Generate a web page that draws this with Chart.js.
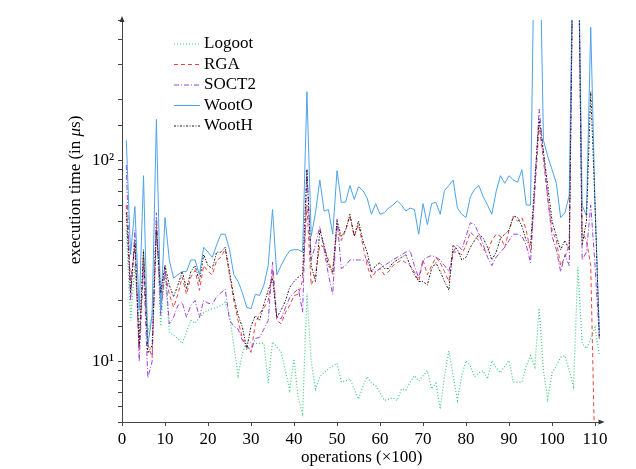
<!DOCTYPE html>
<html>
<head>
<meta charset="utf-8">
<script src="https://cdn.jsdelivr.net/npm/chart.js@4.4.1/dist/chart.umd.min.js"></script>
<style>
  body { margin: 0; background: #fff; }
  canvas { display: block; }
</style>
</head>
<body>
<canvas id="chart" width="636" height="469"></canvas>
<script>
// operations (x100), one point per step
const operations = [];
for (let i = 1; i <= 111; i++) operations.push(i);

const xTicks = [0, 10, 20, 30, 40, 50, 60, 70, 80, 90, 100, 110];
const yTicks = { 10: "10\u00b9", 100: "10\u00b2" };

const seriesNames = ["Logoot", "RGA", "SOCT2", "WootO", "WootH"];

const logoot = [
  45, 16, 30, 14, 35, 14, 17, 52, 15, 28,
  14, 13.5, 13, 12.3, 14, 16, 15.5, 16.5, 17.5, 18,
  18.3, 18.6, 19, 19.7, 17, 12, 8.5, 11, 12.5, 12.4,
  12.3, 12.3, 12.3, 7.8, 12.5, 11.8, 11.1, 9, 7.2, 10.3,
  6.5, 5.5, 21.8, 10, 7.3, 8.4, 8.8, 9.2, 9.5, 9.8,
  7.9, 8, 8.2, 7.3, 6.5, 7.5, 8.4, 7.8, 7.6, 7,
  6.4, 6.5, 6.6, 6.4, 7.3, 7.2, 7.9, 8.5, 8, 8.5,
  9, 7.3, 7.8, 5.8, 8.5, 11.3, 8.5, 6.4, 8.5, 10.1,
  9.5, 8.4, 8.8, 9, 8.2, 10.1, 9.3, 8.8, 9.5, 10.1,
  7.9, 7.9, 7.9, 9.5, 10.7, 9.4, 18.4, 9, 6.5, 8.8,
  9.5, 10.5, 10.7, 9, 7.5, 29.4, 12.3, 11.6, 13, 14.8,
  10.7
];
const rga = [
  60, 25, 37, 11.4, 34, 12.2, 10.5, 48, 19, 28,
  21.6, 18.6, 21.6, 26.3, 21.6, 26.3, 28.4, 22.6, 30, 28,
  27, 31.8, 33, 36.3, 27, 20.1, 16, 13, 11.8, 11.1,
  15.4, 17.3, 18.5, 20.1, 28.4, 16, 15.4, 17.5, 19, 21.3,
  21.6, 25.3, 60, 24, 27, 38, 37, 32, 27, 48,
  40, 45, 53, 42, 48, 38, 30, 26, 28, 29,
  27, 28, 30, 31, 32, 31, 30, 28, 25, 32,
  27, 30, 33, 31, 28, 25, 35, 35, 34, 38,
  44, 42, 40, 36, 35, 40, 43, 42, 37, 45,
  52, 50, 52, 45, 35, 70, 150, 100, 65, 45,
  40, 30, 33, 38, 2000, 2000, 44, 40, 30, 3,
  3
];
const soct2 = [
  95, 20, 45, 10, 30, 8.3, 10, 55, 17, 30,
  15.4, 16.6, 19, 19.7, 16.6, 19, 20.1, 16.6, 20.1, 19.5,
  19.3, 21, 22, 22.9, 16, 15, 14.5, 12.7, 12, 11.3,
  13, 13.2, 14.5, 16, 31.2, 16.6, 16.3, 18.5, 20.8, 22,
  23, 17.6, 90, 32, 38, 47, 36, 27, 21.6, 51,
  29, 30, 32, 32, 32, 32, 32, 28, 28, 29,
  30, 31, 32, 33, 34, 35, 35.6, 30, 26, 32,
  33, 33.7, 33, 32, 30, 28, 35, 38, 36, 42,
  49, 48, 43, 38, 33, 30, 33, 35, 37, 40,
  43, 43, 42, 38, 31, 75, 180, 110, 65, 42,
  36, 28, 34, 30, 2000, 2000, 32, 35, 60, 30,
  13
];
const wootO = [
  126, 34, 59, 18, 84, 12, 17, 160, 18, 52,
  32, 26, 27, 28, 28, 32, 32, 27, 37, 35,
  33, 38, 43, 43, 36, 27, 25, 22, 18.6, 18.3,
  21.6, 21.3, 24, 30, 57, 27, 30, 33, 35.6, 36,
  36, 35, 220, 42, 55, 80, 56, 57, 43, 89,
  62, 62, 75, 64, 74, 71, 65, 54, 61, 54,
  55, 58, 60, 63, 60, 56, 58, 57, 43, 61,
  48, 61, 62, 54, 71, 75, 80, 58, 54, 52,
  66, 72, 75, 66, 60, 54, 70, 84, 77, 84,
  80, 78, 90, 60, 60, 2000, 2000, 126, 105, 90,
  77, 52, 55, 67, 2000, 2000, 60, 53, 460, 60,
  14
];
const wootH = [
  55, 22, 40, 12, 36, 11, 12, 45, 22, 30,
  24, 21, 24, 28, 23, 28, 30, 25, 34, 30,
  29, 35, 35, 37, 28, 21, 17, 14.8, 11.5, 15,
  16.9, 16, 19.3, 22.6, 26, 16.6, 18, 20, 23.4, 25,
  26.3, 27.2, 90, 30, 25, 45, 38, 30, 28, 50,
  42, 45, 54, 42, 50, 40, 35, 28, 30, 31,
  29, 29, 31, 32, 33, 34, 30, 27, 25, 25,
  24, 29, 31, 28, 25, 22.6, 38, 36, 32, 33,
  37, 40, 43, 41, 37, 32, 35, 41, 43, 45,
  53, 52, 47, 40, 38, 80, 160, 110, 75, 50,
  42, 36, 40, 36, 2000, 2000, 38, 50, 220, 60,
  13
];

const seriesValues = [logoot, rga, soct2, wootO, wootH];
const seriesColors = ["#3ccb7c", "#e8453f", "#9b42dd", "#4da3ec", "#1a1a1a"];
const seriesDash = [[1, 2], [4, 3], [5, 2, 1, 2], [], [2, 1.5, 1, 1.5]];

const font = "'Liberation Serif', 'DejaVu Serif', serif";
const fontSize = 17;

function makeDatasets() {
  return seriesNames.map((name, i) => ({
    label: name,
    data: operations.map((x, j) => ({ x: x, y: seriesValues[i][j] })),
    borderColor: seriesColors[i],
    borderDash: seriesDash[i],
    borderWidth: i === 0 ? 1.2 : 1,
    pointRadius: 0,
    tension: 0,
    fill: false,
    order: seriesNames.length - i
  }));
}

// arrows, axis titles and the legend, drawn the way pgfplots places them
const extras = {
  id: "extras",
  afterDraw(chart) {
    const ctx = chart.ctx;
    const area = chart.chartArea;
    const f = fontSize + "px " + font;
    const fi = "italic " + fontSize + "px " + font;
    ctx.save();
    ctx.fillStyle = "#333";
    ctx.beginPath();
    ctx.moveTo(area.left, area.top - 4);
    ctx.lineTo(area.left - 2.5, area.top + 2);
    ctx.lineTo(area.left + 2.5, area.top + 2);
    ctx.closePath();
    ctx.fill();
    ctx.beginPath();
    ctx.moveTo(area.right + 3, area.bottom);
    ctx.lineTo(area.right - 3, area.bottom - 2.5);
    ctx.lineTo(area.right - 3, area.bottom + 2.5);
    ctx.closePath();
    ctx.fill();

    ctx.fillStyle = "#000";
    ctx.font = f;
    ctx.textBaseline = "middle";
    ctx.textAlign = "center";
    ctx.fillText("operations (\u00d7100)", (area.left + area.right) / 2, 458);

    // y title, rotated, with an italic mu
    const a = "execution time (in ";
    const b = "\u03bc";
    const c = "s)";
    const wa = ctx.measureText(a).width;
    ctx.font = fi;
    const wb = ctx.measureText(b).width;
    ctx.font = f;
    const wc = ctx.measureText(c).width;
    ctx.translate(76, 190);
    ctx.rotate(-Math.PI / 2);
    ctx.textAlign = "left";
    let x0 = -(wa + wb + wc) / 2;
    ctx.fillText(a, x0, 0);
    ctx.font = fi;
    ctx.fillText(b, x0 + wa, 0);
    ctx.font = f;
    ctx.fillText(c, x0 + wa + wb, 0);
    ctx.setTransform(1, 0, 0, 1, 0, 0);

    // legend
    ctx.font = f;
    ctx.textAlign = "left";
    seriesNames.forEach((name, i) => {
      const y = 44 + i * 20.5;
      ctx.strokeStyle = seriesColors[i];
      ctx.lineWidth = 1;
      ctx.setLineDash(seriesDash[i]);
      ctx.beginPath();
      ctx.moveTo(174, y);
      ctx.lineTo(200, y);
      ctx.stroke();
      ctx.setLineDash([]);
      ctx.fillStyle = "#000";
      ctx.fillText(name, 204, y);
    });
    ctx.restore();
  }
};

new Chart(document.getElementById("chart"), {
  type: "line",
  data: { datasets: makeDatasets() },
  options: {
    responsive: false,
    animation: false,
    layout: { padding: { top: 20, right: 34.5, bottom: 0, left: 0 } },
    plugins: {
      legend: { display: false },
      tooltip: { enabled: false }
    },
    scales: {
      x: {
        type: "linear",
        min: 0,
        max: 111.5,
        afterBuildTicks: (scale) => { scale.ticks = xTicks.map(v => ({ value: v })); },
        afterFit: (scale) => { scale.height = 47; },
        grid: { drawOnChartArea: false, tickLength: 4, color: "#444" },
        border: { color: "#444", width: 1 },
        ticks: { color: "#000", font: { family: font, size: fontSize }, padding: 3, maxRotation: 0, autoSkip: false }
      },
      y: {
        type: "logarithmic",
        min: 5,
        max: 500,
        afterFit: (scale) => { scale.width = 122; },
        grid: { drawOnChartArea: false, tickLength: 4, color: "#444" },
        border: { color: "#444", width: 1 },
        ticks: {
          color: "#000",
          font: { family: font, size: fontSize },
          padding: 4,
          autoSkip: false,
          callback: (v) => {
            for (const k in yTicks) if (Math.abs(v - k) < 1e-6) return yTicks[k];
            return "";
          }
        }
      }
    }
  },
  plugins: [extras]
});
</script>
</body>
</html>
